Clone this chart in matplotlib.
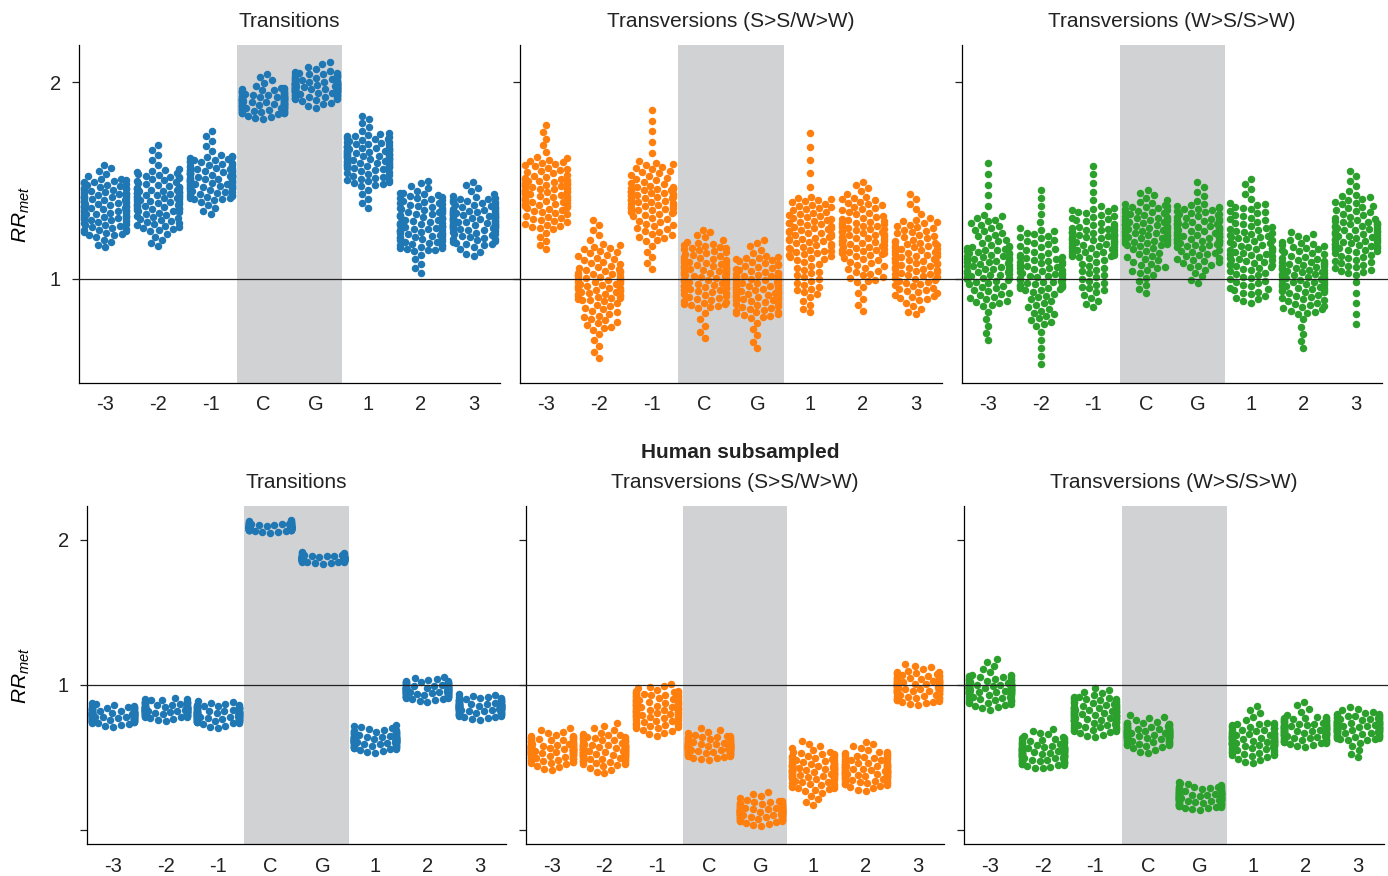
import warnings
import numpy as np
import pandas as pd
import matplotlib
matplotlib.use('Agg')
import matplotlib.pyplot as plt
import seaborn as sns

warnings.filterwarnings('ignore')

plt.rcParams['font.family'] = ['Liberation Sans', 'DejaVu Sans']
plt.rcParams['mathtext.fontset'] = 'custom'
plt.rcParams['mathtext.rm'] = 'Liberation Sans'
plt.rcParams['mathtext.it'] = 'Liberation Sans:italic'
plt.rcParams['axes.linewidth'] = 0.9

positions = ['-3', '-2', '-1', 'C', 'G', '1', '2', '3']
titles = ['Transitions', 'Transversions (S>S/W>W)', 'Transversions (W>S/S>W)']
colors = ['#1f77b4', '#ff7f0e', '#2ca02c']
shade = '#d1d2d4'

# each swarm summarised by values at these levels
quantile_levels = [0, 0.05, 0.25, 0.5, 0.75, 0.95, 1]
n_per_position = 95

# top row (all samples)
top_transitions = [
    [1.16, 1.22, 1.30, 1.37, 1.44, 1.51, 1.58],
    [1.165, 1.24, 1.34, 1.41, 1.47, 1.56, 1.68],
    [1.33, 1.40, 1.46, 1.51, 1.56, 1.63, 1.75],
    [1.81, 1.84, 1.87, 1.90, 1.93, 1.97, 2.04],
    [1.87, 1.91, 1.95, 1.975, 2.00, 2.05, 2.10],
    [1.36, 1.47, 1.56, 1.62, 1.67, 1.74, 1.83],
    [1.03, 1.14, 1.21, 1.28, 1.36, 1.44, 1.50],
    [1.115, 1.17, 1.25, 1.30, 1.35, 1.42, 1.49],
]
top_tv_ss_ww = [
    [1.15, 1.25, 1.36, 1.44, 1.51, 1.62, 1.78],
    [0.60, 0.74, 0.89, 0.97, 1.05, 1.18, 1.30],
    [1.05, 1.19, 1.33, 1.41, 1.47, 1.60, 1.86],
    [0.70, 0.85, 0.94, 1.02, 1.10, 1.19, 1.25],
    [0.65, 0.80, 0.89, 0.96, 1.03, 1.12, 1.20],
    [0.83, 0.92, 1.10, 1.21, 1.31, 1.42, 1.74],
    [0.84, 0.98, 1.12, 1.21, 1.30, 1.42, 1.49],
    [0.82, 0.89, 1.00, 1.10, 1.19, 1.31, 1.43],
]
top_tv_ws_sw = [
    [0.69, 0.86, 0.99, 1.08, 1.17, 1.33, 1.59],
    [0.57, 0.76, 0.94, 1.02, 1.12, 1.26, 1.45],
    [0.86, 0.93, 1.11, 1.19, 1.26, 1.37, 1.575],
    [0.93, 1.02, 1.17, 1.24, 1.31, 1.39, 1.45],
    [0.98, 1.06, 1.17, 1.23, 1.30, 1.38, 1.49],
    [0.88, 0.92, 1.05, 1.15, 1.26, 1.39, 1.51],
    [0.65, 0.82, 0.93, 1.01, 1.09, 1.19, 1.24],
    [0.77, 1.02, 1.14, 1.22, 1.30, 1.43, 1.55],
]

# bottom row (human subsampled)
sub_transitions = [
    [0.71, 0.74, 0.77, 0.795, 0.815, 0.85, 0.875],
    [0.75, 0.78, 0.81, 0.83, 0.85, 0.89, 0.91],
    [0.705, 0.74, 0.77, 0.795, 0.82, 0.86, 0.89],
    [2.05, 2.065, 2.08, 2.09, 2.10, 2.12, 2.135],
    [1.835, 1.85, 1.865, 1.873, 1.88, 1.895, 1.915],
    [0.53, 0.56, 0.60, 0.62, 0.645, 0.69, 0.725],
    [0.885, 0.91, 0.94, 0.965, 0.99, 1.025, 1.055],
    [0.76, 0.785, 0.825, 0.85, 0.87, 0.91, 0.935],
]
sub_tv_ss_ww = [
    [0.41, 0.46, 0.52, 0.555, 0.59, 0.65, 0.70],
    [0.39, 0.45, 0.51, 0.55, 0.59, 0.66, 0.735],
    [0.65, 0.70, 0.78, 0.84, 0.90, 0.96, 1.005],
    [0.48, 0.51, 0.55, 0.575, 0.60, 0.65, 0.70],
    [0.03, 0.06, 0.10, 0.125, 0.15, 0.20, 0.26],
    [0.17, 0.27, 0.36, 0.41, 0.46, 0.54, 0.61],
    [0.27, 0.31, 0.37, 0.41, 0.46, 0.54, 0.605],
    [0.86, 0.89, 0.95, 0.99, 1.03, 1.09, 1.145],
]
sub_tv_ws_sw = [
    [0.83, 0.87, 0.94, 0.975, 1.01, 1.07, 1.18],
    [0.425, 0.45, 0.50, 0.54, 0.575, 0.64, 0.695],
    [0.64, 0.68, 0.75, 0.80, 0.85, 0.92, 0.98],
    [0.53, 0.58, 0.635, 0.665, 0.695, 0.74, 0.79],
    [0.14, 0.16, 0.20, 0.23, 0.26, 0.30, 0.33],
    [0.46, 0.51, 0.58, 0.62, 0.67, 0.74, 0.855],
    [0.575, 0.60, 0.65, 0.69, 0.73, 0.78, 0.88],
    [0.50, 0.62, 0.67, 0.71, 0.75, 0.80, 0.845],
]


def swarm_frame(quantiles):
    parts = []
    for pos, q in zip(positions, quantiles):
        vals = np.interp(np.linspace(0, 1, n_per_position), quantile_levels, q)
        parts.append(pd.DataFrame({'pos': pos, 'rr': vals}))
    return pd.concat(parts, ignore_index=True)


W, H = 1388, 876
fig = plt.figure(figsize=(W / 100, H / 100), dpi=100)

rows = [
    dict(data=[top_transitions, top_tv_ss_ww, top_tv_ws_sw],
         xs=[(79, 500), (520, 942), (962, 1382)], y=(45, 383),
         ylim=(0.472, 2.188), yticks=[1, 2], ylabels=['1', '2']),
    dict(data=[sub_transitions, sub_tv_ss_ww, sub_tv_ws_sw],
         xs=[(87, 506), (526, 944), (964, 1384)], y=(506, 844),
         ylim=(-0.097, 2.234), yticks=[0, 1, 2], ylabels=['', '1', '2']),
]

for row in rows:
    y0, y1 = row['y']
    for i, (quant, (x0, x1)) in enumerate(zip(row['data'], row['xs'])):
        ax = fig.add_axes([x0 / W, 1 - y1 / H, (x1 - x0) / W, (y1 - y0) / H])
        ax.axvspan(2.5, 4.5, color=shade, lw=0, zorder=0)
        df = swarm_frame(quant)
        sns.swarmplot(data=df, x='pos', y='rr', order=positions, color=colors[i],
                      size=5.4, linewidth=0, ax=ax, zorder=2)
        # reference line at 1 runs on to the next panel
        x_end = row['xs'][i + 1][0] if i < 2 else W
        ax.axhline(1, xmin=0, xmax=(x_end - x0) / (x1 - x0), color='#222222',
                   lw=0.9, clip_on=False, zorder=3)
        ax.set_xlim(-0.5, 7.5)
        ax.set_ylim(*row['ylim'])
        ax.set_yticks(row['yticks'])
        ax.set_xlabel('')
        ax.set_ylabel('')
        ax.set_title(titles[i], fontsize=15, pad=13, color='#222222')
        for s in ['top', 'right']:
            ax.spines[s].set_visible(False)
        ax.tick_params(axis='x', length=0, pad=9, labelsize=14.5, colors='#222222')
        ax.tick_params(axis='y', length=5, width=0.9, pad=8, labelsize=14.5, colors='#222222')
        if i == 0:
            ax.set_yticklabels(row['ylabels'])
            ax.set_ylabel('$RR_{met}$', fontsize=15)
            ax.yaxis.set_label_coords((32 - x0) / (x1 - x0), 0.5)
        else:
            ax.set_yticklabels([])

fig.text(740 / W, 1 - 452 / H, 'Human subsampled', ha='center', va='center',
         fontsize=15, fontweight='bold', color='#222222')

fig.savefig('out.png', dpi=100)
